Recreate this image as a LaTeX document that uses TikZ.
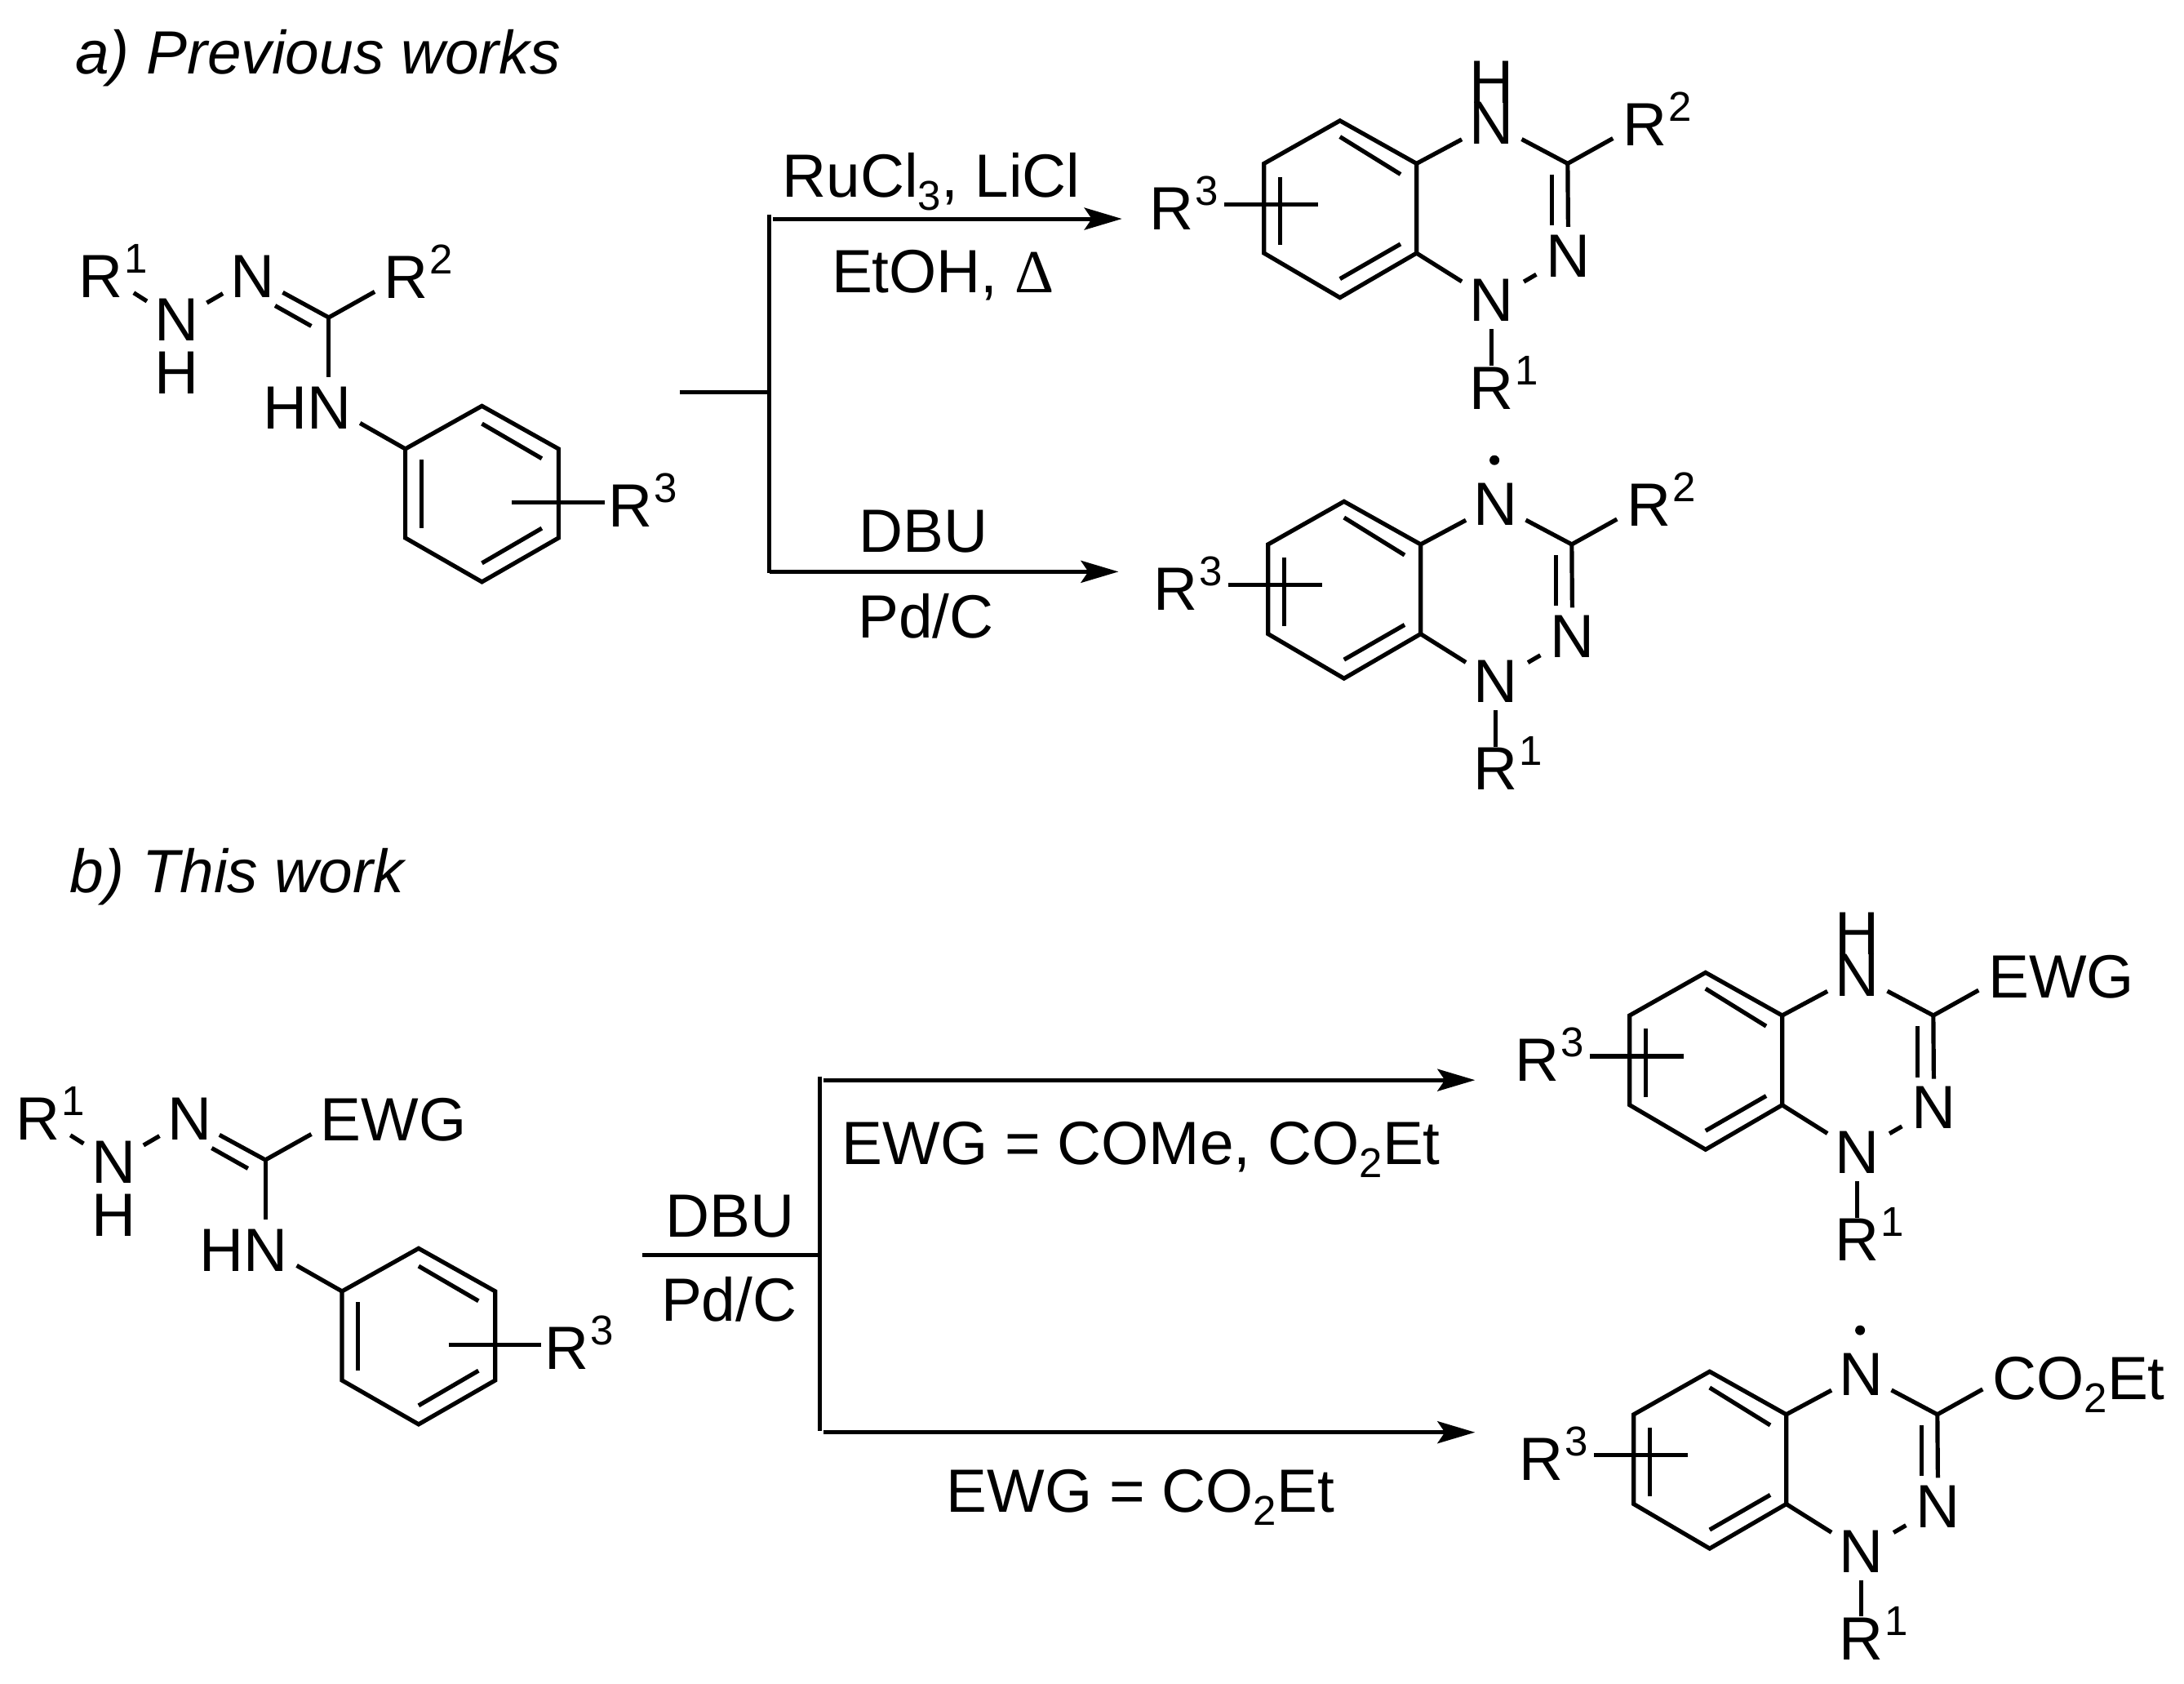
\documentclass[tikz,border=0pt]{standalone}
\usepackage{fontspec}
\setmainfont{Liberation Sans}
\newfontfamily\deltafont{Liberation Serif}
\usetikzlibrary{arrows.meta}
\newcommand\supd[1]{\hspace{2pt}\smash{\raisebox{30pt}{\fontsize{51}{51}\selectfont #1}}}
\newcommand\subd[1]{\smash{\raisebox{-16pt}{\fontsize{51}{51}\selectfont #1}}}
\tikzset{
  every node/.style={font=\fontsize{74.8}{80}\selectfont,text=black},
  bond/.style={line width=5.2pt,line join=miter},
  atom/.style={inner sep=9.5pt},
  lab/.style={inner sep=0pt,anchor=base west},
  rxn/.style={line width=5pt},
  rxnarrow/.style={line width=5pt,-{Stealth[length=46pt,width=27pt,inset=9pt]}},
  dot/.style={circle,fill=black,inner sep=0pt,minimum size=12pt}
}
% #1 prefix, #2 xshift, #3 yshift, #4 group at C3, #5 extra content on N4
\newcommand\productmol[5]{%
\begin{scope}[xshift=#2pt,yshift=-#3pt]
  \coordinate (#1a) at (356,225);
  \coordinate (#1b) at (466,305);
  \coordinate (#1c) at (466,472);
  \coordinate (#1d) at (356,555);
  \coordinate (#1e) at (247,472);
  \coordinate (#1f) at (247,305);
  \coordinate (#1c3) at (683,305);
  \coordinate (#1i1) at (356,255);
  \coordinate (#1i2) at (443,325);
  \coordinate (#1i3) at (443,455);
  \coordinate (#1i4) at (356,520);
  \coordinate (#1i5) at (270,330);
  \coordinate (#1i6) at (270,457);
  \coordinate (#1d1) at (660,325);
  \coordinate (#1d2) at (660,420);
  \coordinate (#1r2end) at (748,258);
  \coordinate (#1r1end) at (574,682);
  \coordinate (#1s1) at (190,381);
  \coordinate (#1s2) at (325,381);
  \node[atom] (#1n4) at (574,230) {N};
  \node[atom] (#1n2) at (684,477) {N};
  \node[atom] (#1n1) at (574,560) {N};
  \node[lab] (#1r1) at (542,763) {R\supd{1}};
  \node[lab] (#1r2) at (762,271) {#4};
  \node[lab] (#1r3) at (82,428) {R\supd{3}};
  \draw[bond] (#1a)--(#1b)--(#1c)--(#1d)--(#1e)--(#1f)--cycle;
  \draw[bond] (#1i1)--(#1i2);
  \draw[bond] (#1i3)--(#1i4);
  \draw[bond] (#1i5)--(#1i6);
  \draw[bond] (#1b)--(#1n4);
  \draw[bond] (#1n4)--(#1c3);
  \draw[bond] (#1c3)--(#1r2end);
  \draw[bond] (#1c3)--(#1n2);
  \draw[bond] (#1d1)--(#1d2);
  \draw[bond,shorten >=3pt,shorten <=3pt] (#1n2)--(#1n1);
  \draw[bond] (#1c)--(#1n1);
  \draw[bond] (#1n1)--(#1r1end);
  \draw[bond] (#1s1)--(#1s2);
  #5
\end{scope}}
% #1 prefix, #2 xshift, #3 yshift, #4 group
\newcommand\reactantmol[4]{%
\begin{scope}[xshift=#2pt,yshift=-#3pt]
  \coordinate (#1a) at (692,757);
  \coordinate (#1b) at (802,837);
  \coordinate (#1c) at (802,1003);
  \coordinate (#1d) at (692,1085);
  \coordinate (#1e) at (582,1003);
  \coordinate (#1f) at (582,837);
  \coordinate (#1i1) at (692,790);
  \coordinate (#1i2) at (778,855);
  \coordinate (#1i3) at (778,985);
  \coordinate (#1i4) at (692,1050);
  \coordinate (#1i5) at (605,857);
  \coordinate (#1i6) at (605,985);
  \coordinate (#1cc) at (472,592);
  \coordinate (#1d1) at (395,570);
  \coordinate (#1d2) at (447,608);
  \coordinate (#1r1end) at (192,546);
  \coordinate (#1r2end) at (538,544);
  \coordinate (#1hnend) at (517,789);
  \coordinate (#1s1) at (735,937);
  \coordinate (#1s2) at (868,937);
  \node[lab] (#1r1) at (113,555) {R\supd{1}};
  \node[atom] (#1n) at (254,597) {N};
  \node[atom] (#1h) at (254,695) {H};
  \node[atom] (#1n2) at (363,515) {N};
  \node[lab] (#1r2) at (551,557) {#4};
  \node[atom] (#1hn) at (441,761) {HN};
  \node[lab] (#1r3) at (873,982) {R\supd{3}};
  \draw[bond] (#1a)--(#1b)--(#1c)--(#1d)--(#1e)--(#1f)--cycle;
  \draw[bond] (#1i1)--(#1i2);
  \draw[bond] (#1i3)--(#1i4);
  \draw[bond] (#1i5)--(#1i6);
  \draw[bond] (#1r1end)--(#1n);
  \draw[bond] (#1n)--(#1n2);
  \draw[bond] (#1n2)--(#1cc);
  \draw[bond] (#1d1)--(#1d2);
  \draw[bond] (#1cc)--(#1r2end);
  \draw[bond,shorten >=3pt] (#1cc)--(#1cc |- #1hn.north);
  \draw[bond] (#1hnend)--(#1f);
  \draw[bond] (#1s1)--(#1s2);
\end{scope}}
\begin{document}
\begin{tikzpicture}[x=0.85332pt,y=-0.657pt]
\useasboundingbox (0,0) rectangle (3136,3140);
% panel a
\node[lab] (ta) at (108,137) {\itshape a) Previous works};
\reactantmol{ra}{0}{0}{R\supd{2}}
\productmol{pa}{1338}{0}{R\supd{2}}{\node[atom] (pah) at (574,153) {H};}
\productmol{pb}{1343}{466.5}{R\supd{2}}{\node[dot] (pbdot) at (572,148) {};}
\coordinate (aj0) at (976,732);
\coordinate (aj1) at (1105,732);
\coordinate (atop) at (1105,400);
\coordinate (abot) at (1105,1069);
\coordinate (au0) at (1110,408);
\coordinate (au1) at (1611,408);
\coordinate (al0) at (1105,1066);
\coordinate (al1) at (1606,1066);
\draw[rxn] (aj0)--(aj1);
\draw[rxn] (atop)--(abot);
\draw[rxnarrow] (au0)--(au1);
\draw[rxnarrow] (al0)--(al1);
\node[lab] (a1) at (1123,368) {RuCl\subd{3}, LiCl};
\node[lab] (a2) at (1194,545) {EtOH, {\deltafont Δ}};
\node[lab] (a3) at (1233,1030) {DBU};
\node[lab] (a4) at (1232,1190) {Pd/C};
% panel b
\begin{scope}[y=-0.6588pt,yshift=-1030pt]
  \node[lab] (tb) at (100,97) {\itshape b)\hspace{2pt} This work};
  \coordinate (bj0) at (922,770);
  \coordinate (bj1) at (1177,770);
  \coordinate (btop) at (1177,438);
  \coordinate (bbot) at (1177,1097);
  \coordinate (bu0) at (1182,445);
  \coordinate (bu1) at (2118,445);
  \coordinate (bl0) at (1182,1100);
  \coordinate (bl1) at (2118,1100);
  \draw[rxn] (bj0)--(bj1);
  \draw[rxn] (btop)--(bbot);
  \draw[rxnarrow] (bu0)--(bu1);
  \draw[rxnarrow] (bl0)--(bl1);
  \node[lab] (b1) at (955,737) {DBU};
  \node[lab] (b2) at (949,894) {Pd/C};
  \node[lab] (b3) at (1209,602) {EWG = COMe, CO\subd{2}Et};
  \node[lab] (b4) at (1359,1249) {EWG = CO\subd{2}Et};
\end{scope}
\reactantmol{rb}{-77.6}{1032}{EWG}
\productmol{pc}{1786}{1043.6}{\raisebox{-1pt}{EWG}}{\node[atom] (pch) at (574,153) {H};}
\productmol{pd}{1791}{1532.4}{\raisebox{-4pt}{CO\subd{2}Et}}{\node[dot] (pddot) at (572,148) {};}
\end{tikzpicture}
\end{document}
